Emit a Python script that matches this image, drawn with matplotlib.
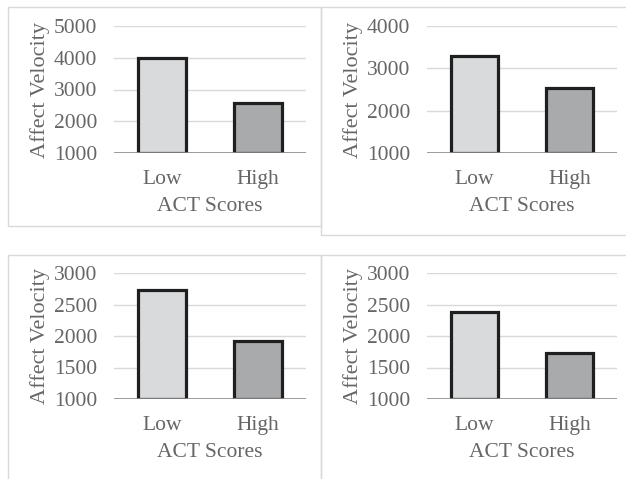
import matplotlib.pyplot as plt
from matplotlib.patches import Rectangle

categories = ['Low', 'High']
values_tl = [3990, 2560]
values_tr = [3280, 2540]
values_bl = [2730, 1920]
values_br = [2380, 1730]

ticks_tl = [1000, 2000, 3000, 4000, 5000]
ticks_tr = [1000, 2000, 3000, 4000]
ticks_bottom = [1000, 1500, 2000, 2500, 3000]

bar_colors = ['#d9dadc', '#a9aaac']
text_gray = '#666666'
line_gray = '#d9d9d9'

plt.rcParams['font.family'] = ['Liberation Serif', 'DejaVu Serif']

fig = plt.figure(figsize=(6.26, 4.79), dpi=100)

W, H = 626, 479


def px_axes(x0, y0, x1, y1):
    return fig.add_axes([x0 / W, 1 - y1 / H, (x1 - x0) / W, (y1 - y0) / H])


# panel frames (pixel boxes)
for (x0, y0, x1, y1) in [(8, 7, 321, 226), (321, 7, 640, 235),
                         (8, 255, 321, 490), (321, 255, 640, 490)]:
    fig.patches.append(Rectangle((x0 / W, 1 - y1 / H), (x1 - x0) / W, (y1 - y0) / H,
                                 transform=fig.transFigure, fill=False,
                                 edgecolor=line_gray, linewidth=1))

panels = [
    ((114, 26, 306, 153), values_tl, ticks_tl),
    ((427, 26, 617, 153), values_tr, ticks_tr),
    ((114, 273, 306, 399), values_bl, ticks_bottom),
    ((427, 273, 617, 399), values_br, ticks_bottom),
]

for box, vals, ticks in panels:
    ax = px_axes(*box)
    ax.bar(range(len(categories)), [v - ticks[0] for v in vals], bottom=ticks[0],
           width=0.5, color=bar_colors, edgecolor='#1f1f1f', linewidth=2.3, zorder=3)
    ax.axhline(ticks[0], color='#8c8c8c', linewidth=1.2, zorder=4)
    ax.set_ylim(ticks[0], ticks[-1])
    ax.set_xlim(-0.5, 1.5)
    ax.set_yticks(ticks)
    ax.set_xticks(range(len(categories)))
    ax.set_xticklabels(categories)
    ax.grid(axis='y', color=line_gray, linewidth=1, zorder=0)
    ax.set_axisbelow(True)
    for s in ax.spines.values():
        s.set_visible(False)
    ax.tick_params(axis='both', length=0, colors=text_gray, labelsize=15.5)
    ax.tick_params(axis='y', pad=12)
    ax.tick_params(axis='x', pad=12)
    ax.set_ylabel('Affect Velocity', color=text_gray, fontsize=16, labelpad=3)
    ax.set_xlabel('ACT Scores', color=text_gray, fontsize=15.5, labelpad=6)

fig.savefig('out.png', dpi=100)
